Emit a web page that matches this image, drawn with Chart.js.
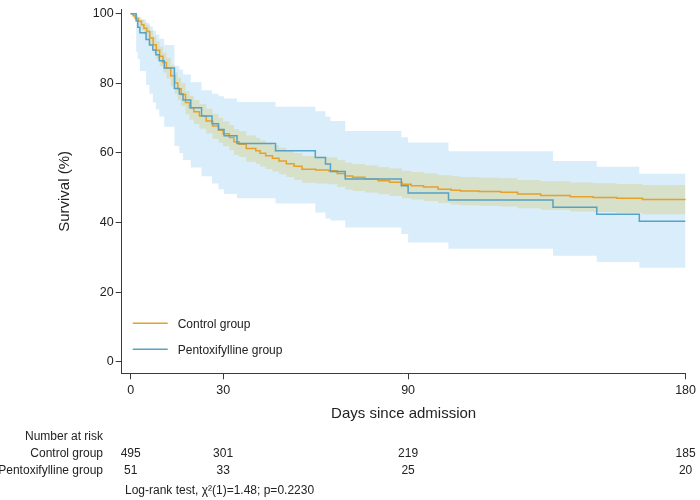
<!DOCTYPE html>
<html>
<head>
<meta charset="utf-8">
<script src="https://cdn.jsdelivr.net/npm/chart.js@4.4.1/dist/chart.umd.min.js"></script>
<style>
  html, body { margin: 0; padding: 0; background: #fff; }
</style>
</head>
<body>
<canvas id="kmChart" width="700" height="500"></canvas>
<script>
// -------------------------------
// Data ---------------------------
// -------------------------------
const xTicks = [0, 30, 90, 180];
const yTicks = [0, 20, 40, 60, 80, 100];

const controlDays = [0, 0.8, 1.5, 2.5, 3.5, 4.3, 5.2, 6.2, 7.3, 8.3, 9.4, 10.5, 11.6, 13.0, 14.3, 15.3, 16.4, 17.8, 19.1, 20.5, 22.3, 24.5, 26.6, 28.5, 30, 32, 33.5, 35.2, 37.5, 40.6, 42, 43.8, 46, 48.1, 50.5, 53, 55.6, 60, 64.2, 67, 69.6, 72, 76, 80.3, 84, 88, 91, 95, 99.7, 104, 107, 113, 120, 125.5, 133, 142.6, 150, 157.7, 166, 180];
const controlSurv = [100, 99.4, 98.6, 97.8, 96.8, 95.8, 94.9, 93.0, 91.1, 89.5, 87.8, 86.0, 84.4, 82.2, 80.1, 78.4, 76.8, 74.5, 73.0, 71.8, 70.6, 69.2, 67.7, 66.5, 65.5, 64.4, 63.2, 62.5, 61.3, 60.6, 59.9, 59.2, 58.5, 57.7, 56.9, 56.2, 55.3, 55.1, 54.9, 54.1, 53.4, 53.0, 52.5, 52.0, 51.6, 51.0, 50.6, 50.2, 49.6, 49.3, 49.1, 48.9, 48.7, 48.2, 47.8, 47.4, 47.2, 47.0, 46.6, 46.5];
const controlUpper = [100, 100, 99.5, 99.0, 98.3, 97.5, 96.8, 95.2, 93.5, 92.0, 90.5, 88.8, 87.3, 85.2, 83.2, 81.6, 80.0, 77.8, 76.4, 75.2, 74.0, 72.7, 71.2, 70.0, 69.0, 68.0, 66.8, 66.2, 65.0, 64.3, 63.6, 62.9, 62.2, 61.5, 60.7, 60.0, 59.1, 58.9, 58.7, 57.9, 57.2, 56.8, 56.4, 55.9, 55.5, 54.9, 54.5, 54.1, 53.6, 53.3, 53.1, 52.9, 52.7, 52.2, 51.9, 51.5, 51.3, 51.1, 50.8, 50.7];
const controlLower = [100, 98.7, 97.6, 96.5, 95.2, 94.0, 92.9, 90.7, 88.6, 86.9, 85.0, 83.1, 81.4, 79.1, 76.9, 75.1, 73.4, 71.1, 69.5, 68.3, 67.0, 65.6, 64.1, 62.9, 61.9, 60.8, 59.5, 58.8, 57.5, 56.8, 56.1, 55.4, 54.7, 53.9, 53.1, 52.3, 51.4, 51.2, 51.0, 50.2, 49.5, 49.1, 48.6, 48.1, 47.6, 47.0, 46.6, 46.2, 45.6, 45.2, 45.0, 44.8, 44.6, 44.1, 43.7, 43.2, 43.0, 42.8, 42.4, 42.3];

const pentoxDays = [0, 1.8, 2.3, 3.0, 5.0, 6.1, 7.2, 8.2, 9.3, 10.9, 14.2, 15.8, 17.0, 19.5, 23.0, 26.4, 28.5, 30.3, 34.5, 47.0, 59.9, 63.2, 64.8, 69.6, 87.8, 90.0, 103.1, 137.0, 151.2, 165.0, 180];
const pentoxSurv = [100, 98.0, 96.1, 94.5, 92.6, 91.0, 89.6, 88.2, 86.5, 84.4, 78.5, 76.9, 75.2, 73.0, 70.6, 68.4, 66.7, 64.9, 62.7, 60.6, 58.7, 56.8, 54.7, 52.5, 50.6, 48.5, 46.5, 44.4, 42.4, 40.4, 40.4];
const pentoxUpper = [100, 99.7, 99.1, 98.3, 97.3, 96.3, 95.2, 94.0, 92.8, 91.0, 85.0, 84.0, 82.5, 80.3, 78.0, 77.0, 76.3, 75.6, 74.6, 73.3, 72.0, 70.5, 69.2, 66.3, 64.5, 63.0, 60.5, 57.7, 56.0, 54.0, 54.0];
const pentoxLower = [100, 89.0, 87.0, 83.5, 79.5, 77.0, 74.5, 72.5, 70.5, 67.5, 62.0, 60.0, 58.0, 55.8, 53.3, 51.2, 49.6, 48.2, 47.0, 45.5, 42.9, 41.2, 40.6, 38.6, 36.7, 34.3, 32.5, 30.5, 28.7, 27.0, 27.0];

const riskDays = [0, 30, 90, 180];
const riskControl = [495, 301, 219, 185];
const riskPentox = [51, 33, 25, 20];

const seriesNames = ["Control group", "Pentoxifylline group"];
const logRankText = "Log-rank test, \u03C7\u00B2(1)=1.48; p=0.2230";

// -------------------------------
// Styles -------------------------
// -------------------------------
const controlColor = "#e6a12a";
const pentoxColor = "#55a3c6";
const controlBand = "rgba(212,204,128,0.42)";
const pentoxBand = "rgba(188,222,248,0.55)";
const axisColor = "#3a3a3a";
const textColor = "#222";

Chart.defaults.font.family = "'Liberation Sans', Arial, sans-serif";
Chart.defaults.color = textColor;

const toPoints = (xs, ys) => xs.map((x, i) => ({ x: x, y: ys[i] }));

const stepLine = (label, xs, ys, color, order) => ({
  label: label,
  data: toPoints(xs, ys),
  borderColor: color,
  borderWidth: 1.5,
  pointRadius: 0,
  stepped: true,
  fill: false,
  order: order,
});

const bandEdge = (xs, ys, color, fill, order) => ({
  data: toPoints(xs, ys),
  borderWidth: 0,
  borderColor: "rgba(0,0,0,0)",
  backgroundColor: color,
  pointRadius: 0,
  stepped: true,
  fill: fill,
  order: order,
});

// -------------------------------
// Legend + risk table plugin -----
// -------------------------------
const annotations = {
  id: "annotations",
  afterDraw(chart) {
    const ctx = chart.ctx;
    const area = chart.chartArea;
    const xs = chart.scales.x;
    ctx.save();

    // legend inside plot, bottom-left
    const legendColors = [controlColor, pentoxColor];
    const legendY = [area.bottom - 50, area.bottom - 24];
    ctx.font = "12px 'Liberation Sans', Arial, sans-serif";
    ctx.textBaseline = "middle";
    ctx.textAlign = "left";
    seriesNames.forEach((name, i) => {
      ctx.strokeStyle = legendColors[i];
      ctx.lineWidth = 1.5;
      ctx.beginPath();
      ctx.moveTo(area.left + 11, legendY[i]);
      ctx.lineTo(area.left + 46, legendY[i]);
      ctx.stroke();
      ctx.fillStyle = textColor;
      ctx.fillText(name, area.left + 56, legendY[i] + 1);
    });

    // number at risk table
    const rowY = [437, 454, 471];
    ctx.textAlign = "right";
    ctx.fillText("Number at risk", 103, rowY[0]);
    ctx.fillText(seriesNames[0], 103, rowY[1]);
    ctx.fillText(seriesNames[1], 103, rowY[2]);
    ctx.textAlign = "center";
    riskDays.forEach((d, i) => {
      const px = xs.getPixelForValue(d);
      ctx.fillText(String(riskControl[i]), px, rowY[1]);
      ctx.fillText(String(riskPentox[i]), px, rowY[2]);
    });

    ctx.textAlign = "left";
    ctx.fillText(logRankText, 125, 491);
    ctx.restore();
  },
};

// -------------------------------
// Chart --------------------------
// -------------------------------
const kmCtx = document.getElementById("kmChart").getContext("2d");
const kmChart = new Chart(kmCtx, {
  type: "line",
  data: {
    datasets: [
      stepLine(seriesNames[1], pentoxDays, pentoxSurv, pentoxColor, 0),
      stepLine(seriesNames[0], controlDays, controlSurv, controlColor, 1),
      bandEdge(controlDays, controlUpper, controlBand, "+1", 2),
      bandEdge(controlDays, controlLower, controlBand, false, 2),
      bandEdge(pentoxDays, pentoxUpper, pentoxBand, "+1", 3),
      bandEdge(pentoxDays, pentoxLower, pentoxBand, false, 3),
    ],
  },
  options: {
    responsive: false,
    animation: false,
    events: [],
    layout: { padding: { top: 8, right: 10.7, left: 0, bottom: 0 } },
    plugins: {
      legend: { display: false },
      tooltip: { enabled: false },
    },
    scales: {
      x: {
        type: "linear",
        min: -2.9,
        max: 180,
        afterBuildTicks: (s) => { s.ticks = xTicks.map((v) => ({ value: v })); },
        afterFit: (s) => { s.height = 126.7; },
        grid: { drawOnChartArea: false, drawTicks: true, tickLength: 6, color: axisColor },
        border: { display: true, color: axisColor, width: 1 },
        ticks: { font: { size: 12.5 }, color: textColor, padding: 4, maxRotation: 0, autoSkip: false },
        title: {
          display: true,
          text: "Days since admission",
          font: { size: 15 },
          color: textColor,
          padding: { top: 0, bottom: 77 },
        },
      },
      y: {
        type: "linear",
        min: -3.3,
        max: 101.2,
        afterBuildTicks: (s) => { s.ticks = yTicks.map((v) => ({ value: v })); },
        afterFit: (s) => { s.width = 121.7; },
        grid: { drawOnChartArea: false, drawTicks: true, tickLength: 6, color: axisColor },
        border: { display: true, color: axisColor, width: 1 },
        ticks: { font: { size: 12.5 }, color: textColor, padding: 2 },
        title: {
          display: true,
          text: "Survival (%)",
          font: { size: 15 },
          color: textColor,
          padding: { top: 56, bottom: 0 },
        },
      },
    },
  },
  plugins: [annotations],
});
</script>
</body>
</html>
